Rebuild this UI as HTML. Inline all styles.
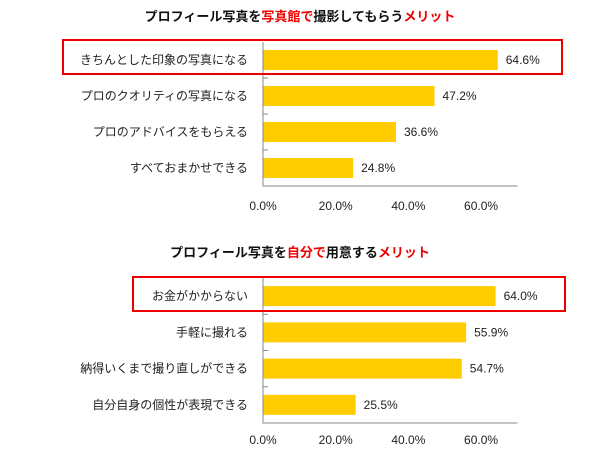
<!DOCTYPE html>
<html><head><meta charset="utf-8"><style>
body{margin:0;background:#fff;width:600px;height:450px;overflow:hidden}
svg text{font-family:"Liberation Sans","Noto Sans CJK JP",sans-serif}
</style></head><body>
<svg id="c" width="600" height="450"></svg>
<script>
const cats1=["きちんとした印象の写真になる","プロのクオリティの写真になる","プロのアドバイスをもらえる","すべておまかせできる"];
const vals1=[64.6,47.2,36.6,24.8];
const cats2=["お金がかからない","手軽に撮れる","納得いくまで撮り直しができる","自分自身の個性が表現できる"];
const vals2=[64.0,55.9,54.7,25.5];
const ticks=[0,20,40,60];
const NS="http://www.w3.org/2000/svg";
const svg=document.getElementById('c');
function mk(t,a,txt){const e=document.createElementNS(NS,t);for(const k in a)e.setAttribute(k,a[k]);if(txt!=null)e.textContent=txt;svg.appendChild(e);return e;}
function chart(id,titleParts,cats,vals,top,bot,titleY,tickY,box){
  const x0=263,xs=v=>x0+v*3.634;
  const t=mk('text',{x:300,y:titleY,'text-anchor':'middle','font-size':'13','font-weight':'bold'});
  
  
  titleParts.forEach(p=>{const s=document.createElementNS(NS,'tspan');s.textContent=p[0];s.setAttribute('fill',p[1]);t.appendChild(s);});
  const band=(bot-top)/cats.length;
  cats.forEach((c,i)=>{
    const yc=top+band*(i+0.5);
    const r=mk('rect',{x:x0,y:yc-10,width:xs(vals[i])-x0,height:20,fill:'#ffcc00'});
    
    
    const l=mk('text',{x:248,y:yc+4,'text-anchor':'end','font-size':'12',fill:'#222'},c);
    
    
    const v=mk('text',{x:xs(vals[i])+8,y:yc+4,'font-size':'12',fill:'#222'},vals[i].toFixed(1)+'%');
    
    
    if(i>0){const tk=mk('line',{x1:x0,x2:x0+5,y1:top+band*i,y2:top+band*i,stroke:'#888'});}
  });
  const ax=mk('path',{d:`M${x0},${top}V${bot}H${xs(70)}`,stroke:'#888',fill:'none'});
  
  
  ticks.forEach(v=>{const e=mk('text',{x:xs(v),y:tickY,'text-anchor':'middle','font-size':'12',fill:'#222'},v.toFixed(1)+'%');
    
    });
  const b=mk('rect',{x:box[0],y:box[1],width:box[2]-box[0],height:box[3]-box[1],fill:'none',stroke:'#e00',"stroke-width":2});
  
  
}
chart('chart1',[["プロフィール写真を","#111"],["写真館で","#e00"],["撮影してもらう","#111"],["メリット","#e00"]],cats1,vals1,42,186,21,210,[63,40,562,74]);
chart('chart2',[["プロフィール写真を","#111"],["自分で","#e00"],["用意する","#111"],["メリット","#e00"]],cats2,vals2,278,423,257,444,[133,277,565,311]);
</script>
</body></html>
